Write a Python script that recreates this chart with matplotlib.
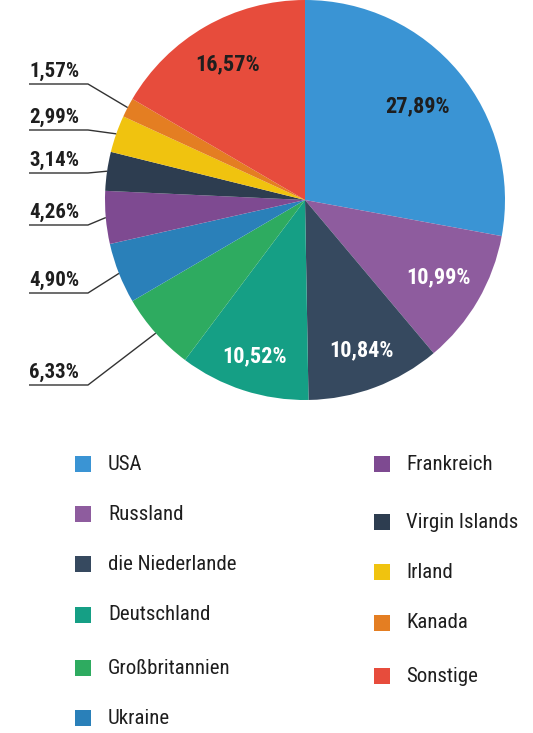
import matplotlib
matplotlib.use("Agg")
import matplotlib.pyplot as plt
from matplotlib import font_manager as fm
from matplotlib.patches import Rectangle
import numpy as np

# ---------------- data ----------------
categories = ["USA", "Russland", "die Niederlande", "Deutschland", "Großbritannien",
              "Ukraine", "Frankreich", "Virgin Islands", "Irland", "Kanada", "Sonstige"]
values = [27.89, 10.99, 10.84, 10.52, 6.33, 4.90, 4.26, 3.14, 2.99, 1.57, 16.57]
labels = ["27,89%", "10,99%", "10,84%", "10,52%", "6,33%", "4,90%",
          "4,26%", "3,14%", "2,99%", "1,57%", "16,57%"]
colors = ["#3a94d4", "#8e5c9e", "#36495f", "#159f85", "#2eab60", "#2a80b9",
          "#7e4a91", "#2d3d50", "#f0c30f", "#e47e22", "#e74c3c"]

# ---------------- font ----------------
avail = {f.name for f in fm.fontManager.ttflist}
fam = "DejaVu Sans"
for cand in ["Liberation Sans Narrow", "Roboto Condensed", "Open Sans Condensed",
             "Noto Sans Condensed", "DejaVu Sans Condensed"]:
    if cand in avail:
        fam = cand
        break
plt.rcParams["font.family"] = [fam, "DejaVu Sans"]

W, H = 533, 733
fig = plt.figure(figsize=(W / 100, H / 100), dpi=100)
ax = fig.add_axes([0, 0, 1, 1])

def Y(y):
    return H - y

cx, cy, R = 305, 200, 200
wedges, _ = ax.pie(values, colors=colors, startangle=90, counterclock=False,
                   center=(cx, Y(cy)), radius=R, wedgeprops=dict(linewidth=0))
ax.set_xlim(0, W)
ax.set_ylim(0, H)
ax.set_aspect("equal")
ax.axis("off")

# inside labels
inside = {0: (0.735, "#1e1e1e"), 1: (0.77, "white"), 2: (0.80, "white"),
          3: (0.82, "white"), 10: (0.78, "#1e1e1e")}
for i, (rf, col) in inside.items():
    w = wedges[i]
    ang = np.deg2rad((w.theta1 + w.theta2) / 2)
    x = cx + R * rf * np.cos(ang)
    y = Y(cy) + R * rf * np.sin(ang)
    ax.text(x, y, labels[i], ha="center", va="center", fontsize=16,
            fontweight="bold", color=col)

# outside labels with leader lines
outside_rows = {9: 84, 8: 130, 7: 173, 6: 225, 5: 293, 4: 385}
x0, xe = 29, 88
for i, ly in outside_rows.items():
    w = wedges[i]
    ang = np.deg2rad((w.theta1 + w.theta2) / 2)
    ex = cx + R * np.cos(ang)
    ey = Y(cy) + R * np.sin(ang)
    ax.plot([x0, xe, ex], [Y(ly), Y(ly), ey], color="#333333", lw=1.0,
            solid_capstyle="butt")
    ax.text(x0, Y(ly) + 3, labels[i], ha="left", va="bottom", fontsize=15,
            fontweight="bold", color="#1e1e1e")

# legend
left_rows = [464, 514, 564, 615, 668, 718]
right_rows = [464, 522, 572, 623, 676]
pos = [(75, 108, y) for y in left_rows] + [(374, 406, y) for y in right_rows]
for i, (mx, tx, y) in enumerate(pos):
    ax.add_patch(Rectangle((mx, Y(y) - 8), 16, 16, facecolor=colors[i],
                           edgecolor="none"))
    ax.text(tx, Y(y), categories[i], ha="left", va="center", fontsize=15,
            color="#1e1e1e")

fig.savefig("out.png", dpi=100)
